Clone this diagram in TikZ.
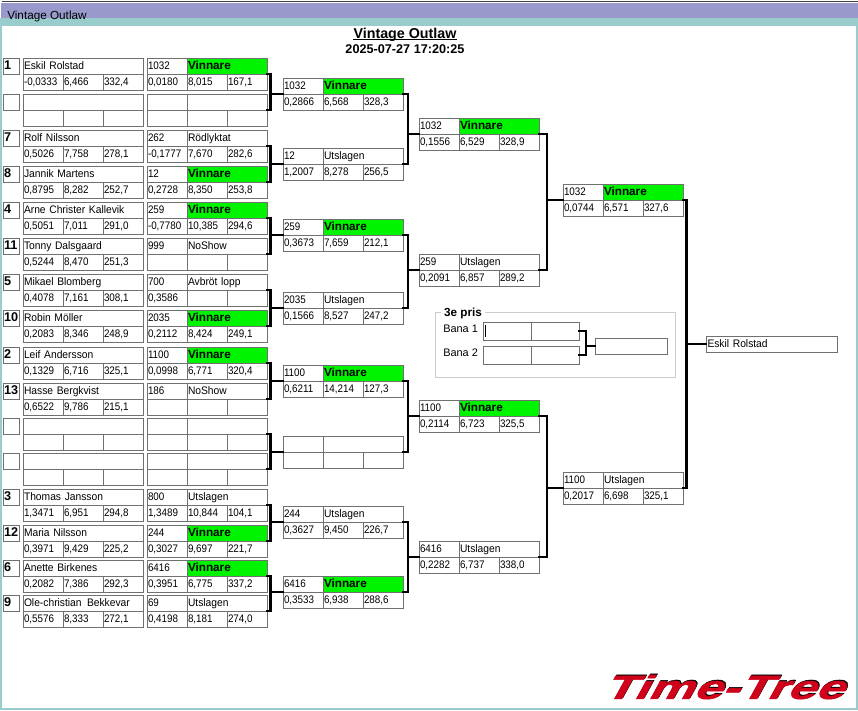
\documentclass[tikz,border=0pt]{standalone}
\usepackage{fontspec}
\setmainfont{Liberation Sans}
\newfontfamily\logofont[FakeSlant=0.55,FakeStretch=1.53,FakeBold=1.5]{Liberation Sans Bold}
\newfontfamily\cellfont[FakeStretch=.94]{Liberation Sans}
\newfontfamily\numfont[FakeStretch=.9]{Liberation Sans}
\usetikzlibrary{calc}
\definecolor{cellgray}{HTML}{707070}
\definecolor{framegray}{HTML}{CCCCCC}
\definecolor{barlilac}{HTML}{9999CC}
\definecolor{barteal}{HTML}{99CCCC}
\definecolor{wingreen}{HTML}{00F400}
\definecolor{logored}{HTML}{D0021B}
\tikzset{cell/.style={draw=cellgray, line width=.7pt, anchor=north west, inner sep=0pt, outer sep=0pt, minimum height=12pt, align=left, text height=7pt, text depth=2pt, font=\fontsize{8.2}{9}\cellfont, text=black}}
\tikzset{winst/.style={cell, fill=wingreen, font=\fontsize{8.8}{9}\selectfont\bfseries}}
\tikzset{lostst/.style={cell}}
\tikzset{seedcell/.style={cell, minimum width=12pt, text width=10.5pt, font=\fontsize{9.5}{10}\selectfont\bfseries}}
\tikzset{link/.style={draw, line width=1.6pt, line cap=rect}}
\tikzset{nrcell/.style={cell, minimum width=30pt, text width=28.5pt, font=\fontsize{8.2}{9}\numfont}}
\tikzset{stat/.style={cell, minimum width=30pt, text width=28.5pt, font=\fontsize{8.2}{9}\numfont}}
\tikzset{wide/.style={minimum width=60pt, text width=58.5pt}}
\tikzset{caption/.style={anchor=west, inner sep=0pt, font=\fontsize{8.2}{9}\selectfont}}
% one rider: seed box, name box, three numbers
\newcommand{\rider}[7]{
  \node[seedcell] (#1-s) at (3,#2) {#3};
  \node[cell, minimum width=90pt, text width=88.5pt] (#1-n) at (23,#2) {#4};
  \node[stat] (#1-a) at (23,#2+16) {#5};
  \node[stat] (#1-b) at (63,#2+16) {#6};
  \node[stat] (#1-c) at (103,#2+16) {#7};
}
% one race box: number, status, three numbers
\newcommand{\game}[9]{
  \node[nrcell] (#1-nr) at (#2,#3) {#4};
  \node[#6, wide] (#1-st) at (#2+40,#3) {#5};
  \node[stat] (#1-a) at (#2,#3+16) {#7};
  \node[stat] (#1-b) at (#2+40,#3+16) {#8};
  \node[stat] (#1-c) at (#2+80,#3+16) {#9};
}
\begin{document}
\begin{tikzpicture}[x=0.75pt,y=-0.75pt]
  \useasboundingbox (0,0) rectangle (858,711);
  % window
  \fill[white] (0,0) rectangle (858,711);
  \fill[barlilac] (1,3) rectangle (858,18);
  \fill[barteal] (1,18) rectangle (858,26);
  \draw[barteal, line width=1.5pt] (1,18) -- (1,709) -- (857,709) -- (857,18);
  \draw[black!75, line width=.75pt] (2,1.5) -- (858,1.5);
  \node[caption, font=\fontsize{8.8}{9}\selectfont] (win) at (7,16) {Vintage Outlaw};
  \node[anchor=base, inner sep=0pt, font=\fontsize{10.7}{11}\selectfont\bfseries] (head) at (405,38) {Vintage Outlaw};
  \draw[black, line width=.9pt] ($(head.base west)+(0,1.8)$) -- ($(head.base east)+(0,1.8)$);
  \node[anchor=base, inner sep=0pt, font=\fontsize{9.5}{10}\selectfont\bfseries] (date) at (405,53) {2025-07-27 17:20:25};

  % riders
  \rider{r1}{58}{1}{Eskil Rolstad}{-0,0333}{6,466}{332,4}
  \rider{r2}{94}{}{}{}{}{}
  \rider{r3}{130}{7}{Rolf Nilsson}{0,5026}{7,758}{278,1}
  \rider{r4}{166}{8}{Jannik Martens}{0,8795}{8,282}{252,7}
  \rider{r5}{202}{4}{Arne Christer Kallevik}{0,5051}{7,011}{291,0}
  \rider{r6}{238}{11}{Tonny Dalsgaard}{0,5244}{8,470}{251,3}
  \rider{r7}{274}{5}{Mikael Blomberg}{0,4078}{7,161}{308,1}
  \rider{r8}{310}{10}{Robin M\"oller}{0,2083}{8,346}{248,9}
  \rider{r9}{347}{2}{Leif Andersson}{0,1329}{6,716}{325,1}
  \rider{r10}{383}{13}{Hasse Bergkvist}{0,6522}{9,786}{215,1}
  \rider{r11}{418}{}{}{}{}{}
  \rider{r12}{453}{}{}{}{}{}
  \rider{r13}{489}{3}{Thomas Jansson}{1,3471}{6,951}{294,8}
  \rider{r14}{525}{12}{Maria Nilsson}{0,3971}{9,429}{225,2}
  \rider{r15}{560}{6}{Anette Birkenes}{0,2082}{7,386}{292,3}
  \rider{r16}{595}{9}{\mbox{Ole-christian\hspace{4pt}Bekkevar}}{0,5576}{8,333}{272,1}

  % first races
  \game{a1}{147}{58}{1032}{Vinnare}{winst}{0,0180}{8,015}{167,1}
  \game{a2}{147}{94}{}{}{lostst}{}{}{}
  \game{a3}{147}{130}{262}{R\"odlyktat}{lostst}{-0,1777}{7,670}{282,6}
  \game{a4}{147}{166}{12}{Vinnare}{winst}{0,2728}{8,350}{253,8}
  \game{a5}{147}{202}{259}{Vinnare}{winst}{-0,7780}{10,385}{294,6}
  \game{a6}{147}{238}{999}{NoShow}{lostst}{}{}{}
  \game{a7}{147}{274}{700}{Avbr\"ot lopp}{lostst}{0,3586}{}{}
  \game{a8}{147}{310}{2035}{Vinnare}{winst}{0,2112}{8,424}{249,1}
  \game{a9}{147}{347}{1100}{Vinnare}{winst}{0,0998}{6,771}{320,4}
  \game{a10}{147}{383}{186}{NoShow}{lostst}{}{}{}
  \game{a11}{147}{418}{}{}{lostst}{}{}{}
  \game{a12}{147}{453}{}{}{lostst}{}{}{}
  \game{a13}{147}{489}{800}{Utslagen}{lostst}{1,3489}{10,844}{104,1}
  \game{a14}{147}{525}{244}{Vinnare}{winst}{0,3027}{9,697}{221,7}
  \game{a15}{147}{560}{6416}{Vinnare}{winst}{0,3951}{6,775}{337,2}
  \game{a16}{147}{595}{69}{Utslagen}{lostst}{0,4198}{8,181}{274,0}

  % second races
  \game{b1}{283}{78}{1032}{Vinnare}{winst}{0,2866}{6,568}{328,3}
  \game{b2}{283}{148}{12}{Utslagen}{lostst}{1,2007}{8,278}{256,5}
  \game{b3}{283}{219}{259}{Vinnare}{winst}{0,3673}{7,659}{212,1}
  \game{b4}{283}{292}{2035}{Utslagen}{lostst}{0,1566}{8,527}{247,2}
  \game{b5}{283}{365}{1100}{Vinnare}{winst}{0,6211}{14,214}{127,3}
  \game{b6}{283}{436}{}{}{lostst}{}{}{}
  \game{b7}{283}{506}{244}{Utslagen}{lostst}{0,3627}{9,450}{226,7}
  \game{b8}{283}{576}{6416}{Vinnare}{winst}{0,3533}{6,938}{288,6}

  % semi and final boxes
  \game{c1}{419}{118}{1032}{Vinnare}{winst}{0,1556}{6,529}{328,9}
  \game{c2}{419}{254}{259}{Utslagen}{lostst}{0,2091}{6,857}{289,2}
  \game{c3}{419}{400}{1100}{Vinnare}{winst}{0,2114}{6,723}{325,5}
  \game{c4}{419}{541}{6416}{Utslagen}{lostst}{0,2282}{6,737}{338,0}
  \game{d1}{563}{184}{1032}{Vinnare}{winst}{0,0744}{6,571}{327,6}
  \game{d2}{563}{472}{1100}{Utslagen}{lostst}{0,2017}{6,698}{325,1}
  \node[cell, minimum width=98.25pt, text width=96pt] (champ) at (706,336) {Eskil Rolstad};

  % connectors
  \foreach \u/\v/\t/\dx in {
    a1/a2/b1/3.5,
    a3/a4/b2/3.5,
    a5/a6/b3/3.5,
    a7/a8/b4/3.5,
    a9/a10/b5/3.5,
    a11/a12/b6/3.5,
    a13/a14/b7/3.5,
    a15/a16/b8/3.5,
    b1/b2/c1/5,
    b3/b4/c2/5,
    b5/b6/c3/5,
    b7/b8/c4/5,
    c1/c2/d1/8,
    c3/c4/d2/8%
  }{
    \draw[link] (\u-st.south east) -- ++(\dx,0) |- (\v-st.south east);
    \draw[link] (\u-st.south east) ++(\dx,0) |- (\t-nr.south west);
  }
  \draw[link] (d1-st.south east) -- ++(3.5,0) |- (d2-st.south east);
  \draw[link] (d1-st.south east) ++(3.5,0) |- (champ.west);

  % third prize
  \draw[framegray, line width=.75pt] (435,312) rectangle (675,377);
  \node[fill=white, inner sep=2pt, font=\fontsize{8.8}{9}\selectfont\bfseries] (prize) at (463,313) {3e pris};
  \node[caption] (bana1) at (443,329) {Bana 1};
  \node[caption] (bana2) at (443,353) {Bana 2};
  \node[cell, minimum width=36pt, minimum height=13.5pt] (p1) at (483,322) {};
  \node[cell, minimum width=36pt, minimum height=13.5pt] (p2) at (531,322) {};
  \node[cell, minimum width=36pt, minimum height=13.5pt] (p3) at (483,346) {};
  \node[cell, minimum width=36pt, minimum height=13.5pt] (p4) at (531,346) {};
  \node[cell, minimum width=54pt] (p5) at (595,338) {};
  \draw[black, line width=.75pt] (485.5,325) -- (485.5,337);
  \draw[link] (p2.east) -- ++(7,0) |- (p4.east);
  \draw[link] (p2.east) ++(7,0) |- (p5.west);

  % logo
  \node[inner sep=0pt, text=black, font=\fontsize{25}{25}\logofont] (logob) at (723.5,686) {Time-Tree};
  \node[inner sep=0pt, text=logored, font=\fontsize{25}{25}\logofont] (logo) at (722.5,687) {Time-Tree};
\end{tikzpicture}
\end{document}
